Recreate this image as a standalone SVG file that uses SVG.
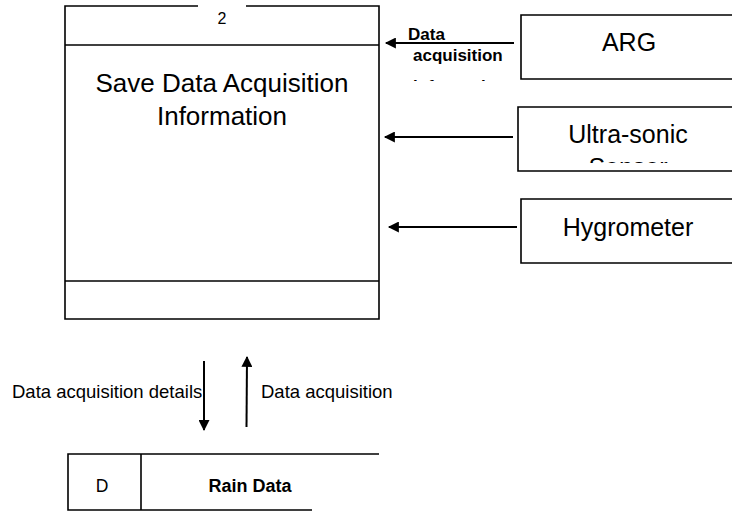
<svg xmlns="http://www.w3.org/2000/svg" width="732" height="512" viewBox="0 0 732 512">
<style>
.ln{fill:none;stroke:#000;stroke-width:1.6}
.t{font-family:"Liberation Sans",Arial,sans-serif;fill:#000}
.ar{fill:none;stroke:#000;stroke-width:2}
</style>
<defs>
<marker id="ah2" viewBox="0 0 10 10" refX="9" refY="5" markerWidth="14" markerHeight="11" markerUnits="userSpaceOnUse" orient="auto">
<path d="M0,0 L10,5 L0,10 z" fill="#000"/>
</marker>
<clipPath id="c1"><rect x="400" y="20" width="115" height="61"/></clipPath>
<clipPath id="c2"><rect x="520" y="108" width="212" height="55"/></clipPath>
</defs>
<g id="process">
<path class="ln" d="M198,6 H65 V319 H379 V6 H246"/>
<line class="ln" x1="65" y1="45" x2="379" y2="45"/>
<line class="ln" x1="65" y1="281" x2="379" y2="281"/>
<text class="t" x="222" y="24" font-size="16" text-anchor="middle">2</text>
<text class="t" x="222" y="92" font-size="26" text-anchor="middle">Save Data Acquisition</text>
<text class="t" x="222" y="125" font-size="26" text-anchor="middle">Information</text>
</g>
<g id="arg">
<path class="ln" d="M732,15 H521 V79 H732"/>
<text class="t" x="629" y="51" font-size="25" text-anchor="middle">ARG</text>
</g>
<g id="ultrasonic">
<path class="ln" d="M732,107 H518 V171 H732"/>
<g clip-path="url(#c2)">
<text class="t" x="628" y="143" font-size="25" text-anchor="middle">Ultra-sonic</text>
<text class="t" x="628" y="176" font-size="25" text-anchor="middle">Sensor</text>
</g>
</g>
<g id="hygrometer">
<path class="ln" d="M732,199 H521 V263 H732"/>
<text class="t" x="628" y="236" font-size="25" text-anchor="middle">Hygrometer</text>
</g>
<g id="raindata">
<path class="ln" d="M379,454 H68 V510 H312"/>
<line class="ln" x1="141" y1="454" x2="141" y2="510"/>
<text class="t" x="102" y="492" font-size="17.5" text-anchor="middle">D</text>
<text class="t" x="250" y="492" font-size="18" font-weight="bold" text-anchor="middle">Rain Data</text>
</g>
<g id="connectors">
<line class="ar" x1="514" y1="43" x2="386" y2="43" marker-end="url(#ah2)"/>
<g clip-path="url(#c1)">
<text class="t" x="408" y="40" font-size="17" font-weight="bold">Data</text>
<text class="t" x="413" y="61" font-size="17" font-weight="bold">acquisition</text>
<text class="t" x="413" y="92" font-size="17" font-weight="bold">information</text>
</g>
<line class="ar" x1="513" y1="137" x2="385" y2="137" marker-end="url(#ah2)"/>
<line class="ar" x1="517" y1="227" x2="389" y2="227" marker-end="url(#ah2)"/>
<line class="ar" x1="204" y1="361" x2="204" y2="430" marker-end="url(#ah2)"/>
<line class="ar" x1="246.5" y1="427" x2="247" y2="357" marker-end="url(#ah2)"/>
<text class="t" x="12" y="398" font-size="18.5">Data acquisition details</text>
<text class="t" x="261" y="398" font-size="18.5">Data acquisition</text>
</g>
</svg>
